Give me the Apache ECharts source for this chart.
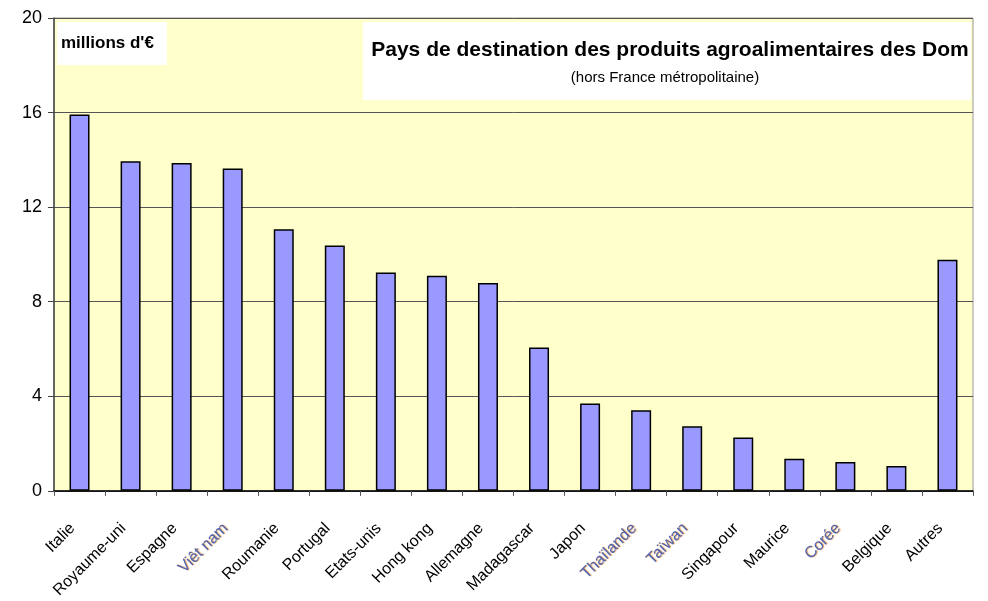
<!DOCTYPE html>
<html>
<head>
<meta charset="utf-8">
<script src="https://cdn.jsdelivr.net/npm/echarts@6/dist/echarts.min.js"></script>
<style>
  html, body { margin: 0; padding: 0; background: #fff; }
  #chart { width: 988px; height: 601px; }
</style>
</head>
<body>
<div id="chart"></div>
<script>
// pays de destination
const pays = ['Italie', 'Royaume-uni', 'Espagne', 'Viêt nam', 'Roumanie', 'Portugal', 'Etats-unis',
  'Hong kong', 'Allemagne', 'Madagascar', 'Japon', 'Thaïlande', 'Taïwan', 'Singapour', 'Maurice',
  'Corée', 'Belgique', 'Autres'];
// millions d'euros
const valeurs = [15.92, 13.94, 13.87, 13.63, 11.06, 10.38, 9.24, 9.10, 8.79, 6.06, 3.70, 3.41, 2.73,
  2.26, 1.36, 1.22, 1.05, 9.78];
const paysAsie = ['Viêt nam', 'Thaïlande', 'Taïwan', 'Corée'];

const chart = echarts.init(document.getElementById('chart'));

const option = {
  animation: false,
  textStyle: { fontFamily: 'Liberation Sans, Arial, sans-serif' },
  grid: { left: 54, right: 15, top: 18, bottom: 110, show: true, backgroundColor: '#ffffcc', borderColor: '#999', borderWidth: 1 },
  graphic: [
    { type: 'rect', shape: { x: 57, y: 22, width: 110, height: 43 }, style: { fill: '#fff' }, z: 1 },
    { type: 'rect', shape: { x: 363, y: 22, width: 608, height: 78 }, style: { fill: '#fff' }, z: 1 },
    { type: 'text', x: 61, y: 43, z: 2,
      style: { text: "millions d'€", font: 'bold 17px Liberation Sans, Arial', fill: '#000', verticalAlign: 'middle' } },
    { type: 'text', x: 670, y: 50, z: 2,
      style: { text: 'Pays de destination des produits agroalimentaires des Dom', font: 'bold 21px Liberation Sans, Arial',
        fill: '#000', align: 'center', verticalAlign: 'middle' } },
    { type: 'text', x: 665, y: 78, z: 2,
      style: { text: '(hors France métropolitaine)', font: '15px Liberation Sans, Arial',
        fill: '#000', align: 'center', verticalAlign: 'middle' } }
  ],
  xAxis: {
    type: 'category',
    data: pays,
    axisLine: { lineStyle: { color: '#000', width: 1.5 } },
    axisTick: { show: true, length: 5, lineStyle: { color: '#555' } },
    axisLabel: {
      interval: 0,
      rotate: 45,
      margin: 28,
      padding: [0, 10, 0, 0],
      fontSize: 16,
      color: '#000',
      formatter: function (v) { return paysAsie.indexOf(v) >= 0 ? '{a|' + v + '}' : v; },
      rich: {
        a: { color: '#4f63b0', fontSize: 16, textShadowColor: '#e8a050', textShadowOffsetX: 1, textShadowBlur: 1 }
      }
    }
  },
  yAxis: {
    type: 'value',
    min: 0,
    max: 20,
    interval: 4,
    axisLine: { show: true, lineStyle: { color: '#444', width: 1.5 } },
    axisTick: { show: true, length: 6, lineStyle: { color: '#444' } },
    axisLabel: { fontSize: 18, color: '#000', margin: 12 },
    splitLine: { lineStyle: { color: '#555', width: 1 } }
  },
  series: [{
    type: 'bar',
    data: valeurs,
    barWidth: 20,
    itemStyle: { color: '#9999ff', borderColor: '#000', borderWidth: 1.5 }
  }]
};

chart.setOption(option);
</script>
</body>
</html>
